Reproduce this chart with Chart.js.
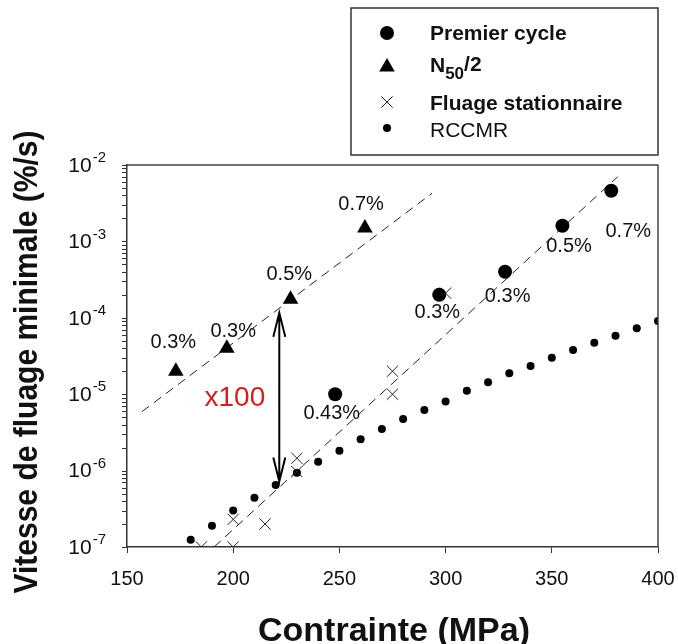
<!DOCTYPE html>
<html>
<head>
<meta charset="utf-8">
<script src="https://cdn.jsdelivr.net/npm/chart.js@4"></script>
<style>
  html, body { margin: 0; padding: 0; background: #fff; }
  #wrap { width: 678px; height: 644px; }
</style>
</head>
<body>
<div id="wrap"><canvas id="ScatterChart" width="678" height="644"></canvas></div>
<script>
// stress (MPa) and minimal creep rate (%/s)
const premierX = [248, 297, 328, 355, 378];
const premierY = [1.0e-5, 2.0e-4, 4.0e-4, 1.6e-3, 4.6e-3];

const n50X = [173, 197, 227, 262];
const n50Y = [2.0e-5, 4.0e-5, 1.75e-4, 1.5e-3];

const fluageX = [185, 200, 200, 215, 230, 230, 275, 275, 300];
const fluageY = [1.0e-7, 1.0e-7, 2.3e-7, 2.0e-7, 1.45e-6, 9.7e-7, 2.0e-5, 1.0e-5, 2.1e-4];

const rccmrX = [180, 190, 200, 210, 220, 230, 240, 250, 260, 270, 280, 290, 300, 310, 320, 330, 340, 350, 360, 370, 380, 390, 400];
const rccmrY = [1.24e-7, 1.9e-7, 3.0e-7, 4.4e-7, 6.5e-7, 9.4e-7, 1.31e-6, 1.82e-6, 2.57e-6, 3.5e-6, 4.73e-6, 6.2e-6,
                8.0e-6, 1.11e-5, 1.43e-5, 1.88e-5, 2.34e-5, 3.0e-5, 3.8e-5, 4.72e-5, 5.83e-5, 7.3e-5, 9.1e-5];

// fitted trend lines (end points)
const fitN50X = [157, 293.6];
const fitN50Y = [5.9e-6, 4.26e-3];
const fitLowX = [191, 381];
const fitLowY = [1.0e-7, 7.0e-3];

// x100 arrow
const arrowX = 221.7;
const arrowY = [1.16e-4, 7.2e-7];

// text notes anchored in data units
const noteText = ['0.3%', '0.3%', '0.5%', '0.7%', '0.43%', '0.3%', '0.3%', '0.5%', '0.7%'];
const noteX = [171.8, 200.0, 226.4, 260.2, 246.4, 296.1, 329.2, 358.1, 386.0];
const noteY = [4.72e-5, 6.6e-5, 3.7e-4, 3.0e-3, 5.6e-6, 1.17e-4, 1.89e-4, 8.7e-4, 1.34e-3];

const xTicks = [150, 200, 250, 300, 350, 400];
const yExponents = [-7, -6, -5, -4, -3, -2];

const FONT = "'Liberation Sans', Arial, sans-serif";

function pts(xs, ys) {
    return xs.map((x, i) => ({ x: x, y: ys[i] }));
}

const decor = {
    id: 'decor',
    afterDraw(chart) {
        const ctx = chart.ctx;
        const xs = chart.scales.x;
        const ys = chart.scales.y;
        const a = chart.chartArea;
        ctx.save();

        // frame top / right
        ctx.strokeStyle = '#444';
        ctx.lineWidth = 1.5;
        ctx.beginPath();
        ctx.moveTo(a.left, a.top);
        ctx.lineTo(a.right, a.top);
        ctx.lineTo(a.right, a.bottom);
        ctx.stroke();

        // y ticks (log, with minor ones)
        ctx.strokeStyle = '#333';
        ctx.lineWidth = 1;
        yExponents.forEach(e => {
            const maxM = e === -2 ? 1 : 9;
            for (let m = 1; m <= maxM; m++) {
                const py = Math.round(ys.getPixelForValue(m * Math.pow(10, e))) + 0.5;
                ctx.beginPath();
                ctx.moveTo(a.left - 5, py);
                ctx.lineTo(a.left, py);
                ctx.stroke();
            }
        });

        // y tick labels 10^e
        ctx.fillStyle = '#111';
        ctx.textBaseline = 'middle';
        yExponents.forEach(e => {
            const py = ys.getPixelForValue(Math.pow(10, e));
            const sup = String(e);
            ctx.font = '15px ' + FONT;
            const sw = ctx.measureText(sup).width;
            const right = a.left - 21;
            ctx.textAlign = 'right';
            ctx.fillText(sup, right, py - 7);
            ctx.font = '21px ' + FONT;
            ctx.fillText('10', right - sw - 1, py + 1);
        });

        // axis titles
        ctx.fillStyle = '#111';
        ctx.textAlign = 'center';
        ctx.textBaseline = 'alphabetic';
        ctx.font = 'bold 34px ' + FONT;
        ctx.fillText('Contrainte (MPa)', 394, 641);

        ctx.save();
        ctx.translate(28, 362);
        ctx.rotate(-Math.PI / 2);
        ctx.scale(1, 1.12);
        ctx.textBaseline = 'middle';
        ctx.font = 'bold 30px ' + FONT;
        ctx.fillText('Vitesse de fluage minimale (%/s)', 0, 0);
        ctx.restore();

        // legend box
        ctx.strokeStyle = '#333';
        ctx.lineWidth = 1.5;
        ctx.strokeRect(351, 8, 307, 147);
        const mk = 387, tx = 430;
        const draw = Chart.helpers.drawPoint;
        ctx.fillStyle = '#000';
        ctx.strokeStyle = '#000';
        draw(ctx, { pointStyle: 'circle', radius: 7, borderWidth: 0, rotation: 0 }, mk, 33);
        draw(ctx, { pointStyle: 'triangle', radius: 9, borderWidth: 0, rotation: 0 }, mk, 67);
        ctx.strokeStyle = '#222';
        ctx.lineWidth = 1;
        draw(ctx, { pointStyle: 'crossRot', radius: 8, borderWidth: 1, rotation: 0 }, mk, 102);
        draw(ctx, { pointStyle: 'circle', radius: 4, borderWidth: 0, rotation: 0 }, mk, 128);

        ctx.fillStyle = '#111';
        ctx.textAlign = 'left';
        ctx.textBaseline = 'alphabetic';
        ctx.font = 'bold 21px ' + FONT;
        ctx.fillText('Premier cycle', tx, 40);
        ctx.fillText('N', tx, 72);
        let w = ctx.measureText('N').width;
        ctx.font = 'bold 17px ' + FONT;
        ctx.fillText('50', tx + w, 79);
        w += ctx.measureText('50').width;
        ctx.font = 'bold 21px ' + FONT;
        ctx.fillText('/2', tx + w, 71);
        ctx.fillText('Fluage stationnaire', tx, 110);
        ctx.font = '21px ' + FONT;
        ctx.fillText('RCCMR', tx, 137);

        // notes
        ctx.textAlign = 'center';
        ctx.textBaseline = 'middle';
        ctx.font = '20px ' + FONT;
        ctx.fillStyle = '#111';
        noteText.forEach((t, i) => {
            ctx.fillText(t, xs.getPixelForValue(noteX[i]), ys.getPixelForValue(noteY[i]));
        });
        ctx.fillStyle = '#d21f1f';
        ctx.font = '28px ' + FONT;
        ctx.fillText('x100', xs.getPixelForValue(200.8), ys.getPixelForValue(8.8e-6));

        // double arrow
        const ax = xs.getPixelForValue(arrowX);
        const ay1 = ys.getPixelForValue(arrowY[0]);
        const ay2 = ys.getPixelForValue(arrowY[1]);
        ctx.strokeStyle = '#000';
        ctx.lineWidth = 2;
        ctx.beginPath();
        ctx.moveTo(ax, ay1);
        ctx.lineTo(ax, ay2);
        ctx.moveTo(ax - 6, ay1 + 24);
        ctx.lineTo(ax, ay1);
        ctx.lineTo(ax + 6, ay1 + 24);
        ctx.moveTo(ax - 6, ay2 - 24);
        ctx.lineTo(ax, ay2);
        ctx.lineTo(ax + 6, ay2 - 24);
        ctx.stroke();

        ctx.restore();
    }
};

const ctx = document.getElementById('ScatterChart');
new Chart(ctx, {
    type: 'scatter',
    data: {
        datasets: [
            {
                label: 'Premier cycle',
                data: pts(premierX, premierY),
                pointStyle: 'circle',
                pointRadius: 7,
                backgroundColor: '#000',
                borderColor: '#000',
                borderWidth: 0
            },
            {
                label: 'N50/2',
                data: pts(n50X, n50Y),
                pointStyle: 'triangle',
                pointRadius: 9,
                backgroundColor: '#000',
                borderColor: '#000',
                borderWidth: 0
            },
            {
                label: 'Fluage stationnaire',
                data: pts(fluageX, fluageY),
                pointStyle: 'crossRot',
                pointRadius: 8,
                borderColor: '#222',
                borderWidth: 1
            },
            {
                label: 'RCCMR',
                data: pts(rccmrX, rccmrY),
                pointStyle: 'circle',
                pointRadius: 4,
                backgroundColor: '#000',
                borderColor: '#000',
                borderWidth: 0
            },
            {
                label: 'fit N50',
                data: pts(fitN50X, fitN50Y),
                showLine: true,
                pointRadius: 0,
                borderColor: '#222',
                borderWidth: 1,
                borderDash: [9, 6]
            },
            {
                label: 'fit',
                data: pts(fitLowX, fitLowY),
                showLine: true,
                pointRadius: 0,
                borderColor: '#222',
                borderWidth: 1,
                borderDash: [9, 6]
            }
        ]
    },
    options: {
        responsive: false,
        animation: false,
        events: [],
        layout: { padding: { top: 165, right: 20, left: 0, bottom: 0 } },
        plugins: {
            legend: { display: false },
            tooltip: { enabled: false }
        },
        scales: {
            x: {
                type: 'linear',
                min: 150,
                max: 400,
                afterBuildTicks: scale => { scale.ticks = xTicks.map(v => ({ value: v })); },
                afterFit: scale => {
                    scale.height = 97;
                    scale.paddingLeft = 0;
                    scale.paddingRight = 0;
                },
                ticks: {
                    font: { family: FONT, size: 20 },
                    color: '#111',
                    padding: 14
                },
                grid: { drawOnChartArea: false, tickLength: 6, tickColor: '#333' },
                border: { color: '#333', width: 1.5 }
            },
            y: {
                type: 'logarithmic',
                min: 1e-7,
                max: 1e-2,
                afterFit: scale => {
                    scale.width = 127;
                    scale.paddingTop = 0;
                    scale.paddingBottom = 0;
                },
                ticks: { display: false },
                grid: { display: false },
                border: { color: '#333', width: 1.5 }
            }
        }
    },
    plugins: [decor]
});
</script>
</body>
</html>
